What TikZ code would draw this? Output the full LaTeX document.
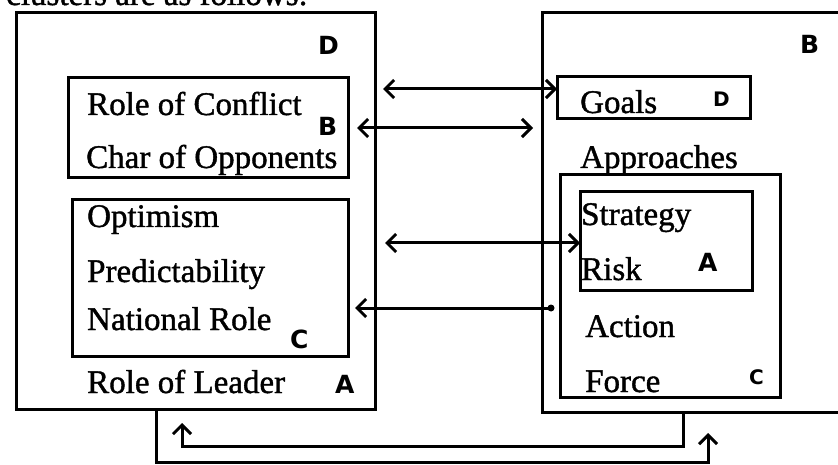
\documentclass[tikz,border=0pt]{standalone}
\usepackage{fontspec}
\setmainfont{Liberation Serif}
\newfontfamily\heavy[FakeBold=1.2]{Liberation Serif}
\newfontfamily\hand{DejaVu Sans}
\usetikzlibrary{arrows.meta}
\begin{document}
\begin{tikzpicture}[x=1pt,y=-1pt,
  box/.style={draw,line width=3pt,inner sep=0pt,outer sep=0pt,anchor=north west},
  lbl/.style={inner sep=0pt,anchor=base west,font=\heavy\fontsize{33}{38}\selectfont},
  hw/.style={inner sep=0pt,anchor=base west,font=\hand\bfseries\fontsize{25}{28}\selectfont},
  hws/.style={hw,font=\hand\bfseries\fontsize{20}{22}\selectfont},
  conn/.style={line width=3pt},
  tip/.style={-{Straight Barb[length=9pt,width=18pt]}},
  dtip/.style={{Straight Barb[length=9pt,width=18pt]}-{Straight Barb[length=9pt,width=18pt]}}]
\useasboundingbox (0,0) rectangle (838,465);
\clip (0,0) rectangle (838,465);
\fill[white] (0,0) rectangle (838,465);
% clipped heading
\node[lbl] (head) at (6,5) {clusters are as follows:};
% left cluster
\node[box,minimum width=359pt,minimum height=396pt] (L) at (16,13) {};
\node[box,minimum width=280pt,minimum height=100pt] (L1) at (68,78) {};
\node[box,minimum width=276pt,minimum height=156pt] (L2) at (72,200) {};
\node[hw] (LD) at (318,55) {D};
\node[lbl] (t1) at (87,115) {Role of Conflict};
\node[hw] (LB) at (318,136) {B};
\node[lbl] (t2) at (86,168) {Char of Opponents};
\node[lbl] (t3) at (87,227) {Optimism};
\node[lbl] (t4) at (87,282) {Predictability};
\node[lbl] (t5) at (87,330) {National Role};
\node[hw] (LC) at (290,348) {C};
\node[lbl] (t6) at (87,393) {Role of Leader};
\node[hw] (LA) at (335,393) {A};
% right cluster
\node[box,minimum width=330pt,minimum height=399pt] (R) at (542,13) {};
\node[box,minimum width=193pt,minimum height=42pt] (G) at (557,77) {};
\node[box,minimum width=220pt,minimum height=222pt] (AP) at (560,175) {};
\node[box,minimum width=172pt,minimum height=98pt] (S) at (580,192) {};
\node[hw] (RB) at (800,54) {B};
\node[lbl] (g) at (580,113) {Goals};
\node[hws] (RD) at (713,107) {D};
\node[lbl] (ap) at (580,168) {Approaches};
\node[lbl] (st) at (581,225) {Strategy};
\node[lbl] (ri) at (581,280) {Risk};
\node[hw] (RA) at (698,271) {A};
\node[lbl] (ac) at (585,337) {Action};
\node[lbl] (fo) at (585,392) {Force};
\node[hws] (RC) at (749,384) {C};
% connector ends
\coordinate (a1l) at (383,89);
\coordinate (a2l) at (357,128);
\coordinate (a2r) at (533,128);
\coordinate (a3l) at (385,243);
\coordinate (a4l) at (355,308);
\coordinate (a4r) at (551,308);
\coordinate (b1) at (683,446);
\coordinate (b2) at (182,446);
\coordinate (b3) at (182,423);
\coordinate (c1) at (156,462);
\coordinate (c2) at (708,462);
\coordinate (c3) at (708,433);
% connectors
\draw[conn,dtip] (a1l) -- (G.west |- a1l);
\draw[conn,dtip] (a2l) -- (a2r);
\draw[conn,dtip] (a3l) -- (S.west |- a3l);
\draw[conn,tip] (a4r) -- (a4l);
\fill (a4r) circle (3.5pt);
\draw[conn,tip] (R.south -| b1) -- (b1) -- (b2) -- (b3);
\draw[conn,tip] (L.south -| c1) -- (c1) -- (c2) -- (c3);
\end{tikzpicture}
\end{document}
